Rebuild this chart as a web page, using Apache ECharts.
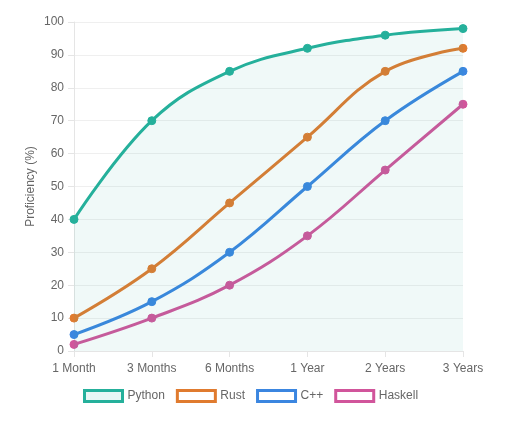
<!DOCTYPE html>
<html><head><meta charset="utf-8">
<script src="https://cdn.jsdelivr.net/npm/echarts@6/dist/echarts.min.js"></script>
<style>html,body{margin:0;padding:0;background:#fff}#c{width:514px;height:421px}</style>
</head><body><div id="c"></div>
<script>
const categories = ['1 Month', '3 Months', '6 Months', '1 Year', '2 Years', '3 Years'];
const python = [40, 70, 85, 92, 96, 98];
const rust = [10, 25, 45, 65, 85, 92];
const cpp = [5, 15, 30, 50, 70, 85];
const haskell = [2, 10, 20, 35, 55, 75];
const names = ['Python', 'Rust', 'C++', 'Haskell'];
const colors = ['#25b09b', '#e07b2f', '#3b86e0', '#d1559b'];
const values = [python, rust, cpp, haskell];

const chart = echarts.init(document.getElementById('c'), null, {renderer: 'canvas'});
const font = 'Helvetica Neue, Liberation Sans, Arial, sans-serif';
chart.setOption({
  animation: false,
  textStyle: {fontFamily: font},
  grid: {left: 74, right: 51, top: 22, bottom: 70},
  legend: {
    top: 384, left: 78, icon: 'rect', itemWidth: 38, itemHeight: 11, itemGap: 11,
    textStyle: {color: '#666', fontSize: 12, fontFamily: font},
    data: names.map((n, i) => ({
      name: n,
      itemStyle: {color: i === 0 ? 'rgba(37,176,155,0.1)' : '#fff', borderColor: colors[i], borderWidth: 3}
    }))
  },
  xAxis: {
    type: 'category', data: categories, boundaryGap: false,
    axisLine: {show: true, lineStyle: {color: '#e5e5e5'}},
    axisTick: {show: true, length: 6, lineStyle: {color: '#e5e5e5'}},
    axisLabel: {color: '#666', fontSize: 12, margin: 12},
    splitLine: {show: false}
  },
  yAxis: {
    type: 'value', min: 0, max: 100, interval: 10,
    name: 'Proficiency (%)', nameLocation: 'middle', nameGap: 37, nameMoveOverlap: false,
    nameTextStyle: {color: '#666', fontSize: 12},
    axisLine: {show: true, lineStyle: {color: '#e5e5e5'}},
    axisTick: {show: true, length: 6, lineStyle: {color: '#e5e5e5'}},
    axisLabel: {color: '#666', fontSize: 12, margin: 10},
    splitLine: {show: true, lineStyle: {color: '#efefef'}}
  },
  series: names.map((n, i) => ({
    name: n, type: 'line', data: values[i], smooth: 0.4,
    symbol: 'circle', symbolSize: 8, showSymbol: true,
    lineStyle: {color: colors[i], width: 3},
    itemStyle: {color: colors[i], borderColor: colors[i]},
    areaStyle: i === 0 ? {color: 'rgba(37,176,155,0.1)', origin: 'start'} : undefined,
    z: 10 - i
  }))
});
</script></body></html>
